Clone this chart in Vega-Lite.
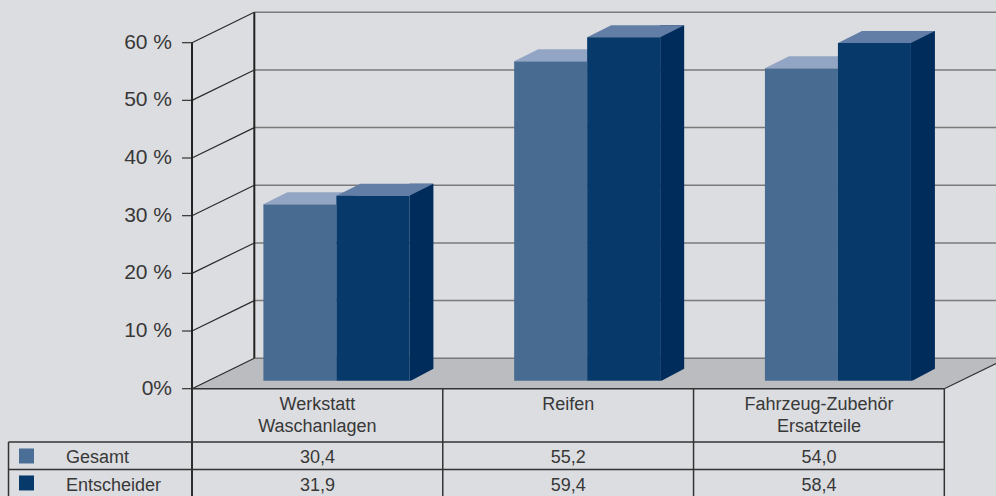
{
  "$schema": "https://vega.github.io/schema/vega-lite/v6.json",
  "width": 996,
  "height": 496,
  "autosize": {"type": "none"},
  "padding": 0,
  "background": "#dcdde0",
  "config": {
    "view": {"stroke": null},
    "axis": {"disable": true},
    "locale": {"number": {"decimal": ",", "thousands": ".", "grouping": [3], "currency": ["", " €"]}},
    "text": {"font": "Liberation Sans", "color": "#383838"}
  },
  "datasets": {
    "werte": [
      {"kategorie": "Werkstatt Waschanlagen", "serie": "Gesamt", "wert": 30.4},
      {"kategorie": "Reifen", "serie": "Gesamt", "wert": 55.2},
      {"kategorie": "Fahrzeug-Zubehör Ersatzteile", "serie": "Gesamt", "wert": 54.0},
      {"kategorie": "Werkstatt Waschanlagen", "serie": "Entscheider", "wert": 31.9},
      {"kategorie": "Reifen", "serie": "Entscheider", "wert": 59.4},
      {"kategorie": "Fahrzeug-Zubehör Ersatzteile", "serie": "Entscheider", "wert": 58.4}
    ],
    "skala": [
      {"v": 0, "t": "0%"},
      {"v": 10, "t": "10 %"},
      {"v": 20, "t": "20 %"},
      {"v": 30, "t": "30 %"},
      {"v": 40, "t": "40 %"},
      {"v": 50, "t": "50 %"},
      {"v": 60, "t": "60 %"}
    ],
    "eins": [{}]
  },
  "data": {"name": "werte"},
  "layer": [
    {
      "data": {"name": "eins"},
      "mark": {"type": "point", "shape": "M0,0L0.07749,-0.03781L1,-0.03781L1,-0.03134L0.9357,0Z", "size": 2585664, "filled": true, "color": "#bbbcbf", "strokeWidth": 0, "opacity": 1},
      "encoding": {
        "x": {"datum": "Werkstatt Waschanlagen", "type": "nominal", "bandPosition": 0,
              "scale": {"type": "band", "domain": ["Werkstatt Waschanlagen", "Reifen", "Fahrzeug-Zubehör Ersatzteile"], "paddingInner": 0, "paddingOuter": 0.4859, "align": 0.7879}},
        "y": {"datum": 0, "type": "quantitative", "scale": {"domain": [-18.61, 67.4], "nice": false, "zero": false}}
      }
    },
    {
      "data": {"name": "skala"},
      "mark": {"type": "rule", "color": "#7a7a7a", "strokeWidth": 1.5, "xOffset": 62.3, "yOffset": -30.4, "x2Offset": 177},
      "encoding": {
        "x": {"datum": "Werkstatt Waschanlagen", "type": "nominal", "bandPosition": 0},
        "x2": {"datum": "Fahrzeug-Zubehör Ersatzteile"},
        "y": {"field": "v", "type": "quantitative"}
      }
    },
    {
      "data": {"name": "eins"},
      "mark": {"type": "rule", "color": "#222222", "strokeWidth": 2, "xOffset": 62.3, "yOffset": -30.4, "y2Offset": -30.4},
      "encoding": {
        "x": {"datum": "Werkstatt Waschanlagen", "type": "nominal", "bandPosition": 0},
        "y": {"datum": 60, "type": "quantitative"},
        "y2": {"datum": 0}
      }
    },
    {
      "data": {"name": "skala"},
      "mark": {"type": "rule", "color": "#2a2a2a", "strokeWidth": 1.2, "x2Offset": -63.1, "y2Offset": -30.4},
      "encoding": {
        "x": {"datum": "Werkstatt Waschanlagen", "type": "nominal", "bandPosition": 0},
        "x2": {"datum": "Werkstatt Waschanlagen"},
        "y": {"field": "v", "type": "quantitative"},
        "y2": {"field": "v"}
      }
    },
    {
      "data": {"name": "skala"},
      "mark": {"type": "rule", "color": "#333333", "strokeWidth": 1.2, "xOffset": -10, "x2Offset": -125.4},
      "encoding": {
        "x": {"datum": "Werkstatt Waschanlagen", "type": "nominal", "bandPosition": 0},
        "x2": {"datum": "Werkstatt Waschanlagen"},
        "y": {"field": "v", "type": "quantitative"}
      }
    },
    {
      "data": {"name": "eins"},
      "mark": {"type": "rule", "color": "#222222", "strokeWidth": 2},
      "encoding": {
        "x": {"datum": "Werkstatt Waschanlagen", "type": "nominal", "bandPosition": 0},
        "y": {"datum": 60, "type": "quantitative"},
        "y2": {"datum": -18.61}
      }
    },
    {
      "transform": [{"filter": "datum.serie === 'Gesamt'"}],
      "mark": {"type": "rule", "color": "#333333", "strokeWidth": 1.5},
      "encoding": {
        "x": {"field": "kategorie", "type": "nominal", "bandPosition": 0},
        "y": {"datum": 0, "type": "quantitative"},
        "y2": {"datum": -18.61}
      }
    },
    {
      "data": {"name": "eins"},
      "mark": {"type": "rule", "color": "#333333", "strokeWidth": 1.5},
      "encoding": {
        "x": {"datum": "Fahrzeug-Zubehör Ersatzteile", "type": "nominal", "bandPosition": 1},
        "y": {"datum": 0, "type": "quantitative"},
        "y2": {"datum": -18.61}
      }
    },
    {
      "data": {"name": "eins"},
      "mark": {"type": "rule", "color": "#333333", "strokeWidth": 1.5, "x2Offset": 125.4},
      "encoding": {
        "x": {"datum": "Werkstatt Waschanlagen", "type": "nominal", "bandPosition": 0},
        "x2": {"datum": "Fahrzeug-Zubehör Ersatzteile"},
        "y": {"datum": 0, "type": "quantitative"}
      }
    },
    {
      "data": {"name": "eins"},
      "mark": {"type": "rule", "color": "#333333", "strokeWidth": 1.5, "xOffset": -183.5, "x2Offset": 125.4},
      "encoding": {
        "x": {"datum": "Werkstatt Waschanlagen", "type": "nominal", "bandPosition": 0},
        "x2": {"datum": "Fahrzeug-Zubehör Ersatzteile"},
        "y": {"datum": -9.24, "type": "quantitative"}
      }
    },
    {
      "data": {"name": "eins"},
      "mark": {"type": "rule", "color": "#333333", "strokeWidth": 1.5, "xOffset": -183.5, "x2Offset": 125.4},
      "encoding": {
        "x": {"datum": "Werkstatt Waschanlagen", "type": "nominal", "bandPosition": 0},
        "x2": {"datum": "Fahrzeug-Zubehör Ersatzteile"},
        "y": {"datum": -14.01, "type": "quantitative"}
      }
    },
    {
      "data": {"name": "eins"},
      "mark": {"type": "rule", "color": "#333333", "strokeWidth": 1.5, "xOffset": -183.5},
      "encoding": {
        "x": {"datum": "Werkstatt Waschanlagen", "type": "nominal", "bandPosition": 0},
        "y": {"datum": -9.24, "type": "quantitative"},
        "y2": {"datum": -18.61}
      }
    },
    {
      "data": {"name": "eins"},
      "mark": {"type": "rule", "color": "#333333", "strokeWidth": 1.2, "x2Offset": 177.1, "y2Offset": -25.2},
      "encoding": {
        "x": {"datum": "Fahrzeug-Zubehör Ersatzteile", "type": "nominal", "bandPosition": 1},
        "x2": {"datum": "Fahrzeug-Zubehör Ersatzteile"},
        "y": {"datum": 0, "type": "quantitative"},
        "y2": {"datum": 0}
      }
    },
    {
      "transform": [{"filter": "datum.serie === 'Gesamt'"}],
      "mark": {"type": "bar", "width": 73, "xOffset": -17.5, "yOffset": -9, "y2Offset": -8, "color": "#486b92"},
      "encoding": {
        "x": {"field": "kategorie", "type": "nominal"},
        "y": {"field": "wert", "type": "quantitative"},
        "y2": {"datum": 0}
      }
    },
    {
      "transform": [{"filter": "datum.serie === 'Gesamt'"}],
      "mark": {"type": "point", "shape": "M-0.6033,0L0.6033,0L1,-0.1983L-0.2066,-0.1983Z", "size": 14641, "filled": true, "color": "#93a5c5", "strokeWidth": 0, "opacity": 1, "xOffset": -17.5, "yOffset": -9},
      "encoding": {
        "x": {"field": "kategorie", "type": "nominal"},
        "y": {"field": "wert", "type": "quantitative"}
      }
    },
    {
      "transform": [{"filter": "datum.serie === 'Entscheider'"}],
      "mark": {"type": "bar", "width": 24, "xOffset": 104, "yOffset": -21, "y2Offset": -8, "color": "#002c5b"},
      "encoding": {
        "x": {"field": "kategorie", "type": "nominal"},
        "y": {"field": "wert", "type": "quantitative"},
        "y2": {"datum": 0}
      }
    },
    {
      "transform": [{"filter": "datum.serie === 'Entscheider'"}],
      "mark": {"type": "point", "shape": "M0,0.03L1.05,0.03L1.05,-0.5L1,-0.5Z", "size": 2304, "filled": true, "color": "#bbbcbf", "strokeWidth": 0, "opacity": 1, "xOffset": 92, "yOffset": -8},
      "encoding": {
        "x": {"field": "kategorie", "type": "nominal"},
        "y": {"datum": 0, "type": "quantitative"}
      }
    },
    {
      "transform": [{"filter": "datum.serie === 'Entscheider'"}],
      "mark": {"type": "point", "shape": "M-0.6033,0L0.6033,0L1,-0.1983L-0.2066,-0.1983Z", "size": 14641, "filled": true, "color": "#627ea6", "strokeWidth": 0, "opacity": 1, "xOffset": 55.5, "yOffset": -9},
      "encoding": {
        "x": {"field": "kategorie", "type": "nominal"},
        "y": {"field": "wert", "type": "quantitative"}
      }
    },
    {
      "transform": [{"filter": "datum.serie === 'Entscheider'"}],
      "mark": {"type": "bar", "width": 73, "xOffset": 55.5, "yOffset": -9, "y2Offset": -8, "color": "#07396a"},
      "encoding": {
        "x": {"field": "kategorie", "type": "nominal"},
        "y": {"field": "wert", "type": "quantitative"},
        "y2": {"datum": 0}
      }
    },
    {
      "data": {"name": "skala"},
      "mark": {"type": "text", "align": "right", "baseline": "middle", "fontSize": 21, "xOffset": -20},
      "encoding": {
        "x": {"datum": "Werkstatt Waschanlagen", "type": "nominal", "bandPosition": 0},
        "y": {"field": "v", "type": "quantitative"},
        "text": {"field": "t"}
      }
    },
    {
      "transform": [{"filter": "datum.serie === 'Gesamt'"}],
      "mark": {"type": "text", "align": "center", "baseline": "alphabetic", "fontSize": 18, "lineBreak": " ", "lineHeight": 22},
      "encoding": {
        "x": {"field": "kategorie", "type": "nominal"},
        "y": {"datum": -3.76, "type": "quantitative"},
        "text": {"field": "kategorie"}
      }
    },
    {
      "transform": [{"filter": "datum.serie === 'Gesamt'"}],
      "mark": {"type": "text", "align": "center", "baseline": "alphabetic", "fontSize": 18},
      "encoding": {
        "x": {"field": "kategorie", "type": "nominal"},
        "y": {"datum": -12.83, "type": "quantitative"},
        "text": {"field": "wert", "type": "quantitative", "format": ".1f"}
      }
    },
    {
      "transform": [{"filter": "datum.serie === 'Entscheider'"}],
      "mark": {"type": "text", "align": "center", "baseline": "alphabetic", "fontSize": 18},
      "encoding": {
        "x": {"field": "kategorie", "type": "nominal"},
        "y": {"datum": -17.69, "type": "quantitative"},
        "text": {"field": "wert", "type": "quantitative", "format": ".1f"}
      }
    },
    {
      "transform": [{"filter": "datum.serie === 'Gesamt' && datum.kategorie === 'Reifen'"}],
      "mark": {"type": "square", "size": 225, "filled": true, "opacity": 1, "color": "#4a6e96", "xOffset": -165.5},
      "encoding": {
        "x": {"datum": "Werkstatt Waschanlagen", "type": "nominal", "bandPosition": 0},
        "y": {"datum": -11.67, "type": "quantitative"}
      }
    },
    {
      "transform": [{"filter": "datum.serie === 'Entscheider' && datum.kategorie === 'Reifen'"}],
      "mark": {"type": "square", "size": 225, "filled": true, "opacity": 1, "color": "#07396a", "xOffset": -165.5},
      "encoding": {
        "x": {"datum": "Werkstatt Waschanlagen", "type": "nominal", "bandPosition": 0},
        "y": {"datum": -16.35, "type": "quantitative"}
      }
    },
    {
      "transform": [{"filter": "datum.serie === 'Gesamt' && datum.kategorie === 'Reifen'"}],
      "mark": {"type": "text", "align": "left", "baseline": "alphabetic", "fontSize": 18, "xOffset": -126},
      "encoding": {
        "x": {"datum": "Werkstatt Waschanlagen", "type": "nominal", "bandPosition": 0},
        "y": {"datum": -12.83, "type": "quantitative"},
        "text": {"field": "serie"}
      }
    },
    {
      "transform": [{"filter": "datum.serie === 'Entscheider' && datum.kategorie === 'Reifen'"}],
      "mark": {"type": "text", "align": "left", "baseline": "alphabetic", "fontSize": 18, "xOffset": -126},
      "encoding": {
        "x": {"datum": "Werkstatt Waschanlagen", "type": "nominal", "bandPosition": 0},
        "y": {"datum": -17.69, "type": "quantitative"},
        "text": {"field": "serie"}
      }
    }
  ]
}
